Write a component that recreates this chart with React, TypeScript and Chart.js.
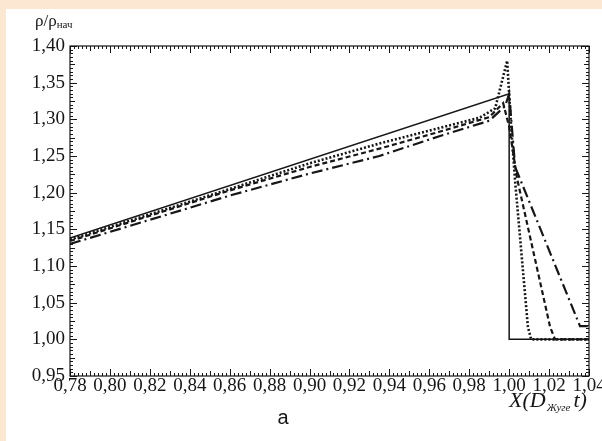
import React, { useEffect, useRef } from 'react';
import { Chart, registerables } from 'chart.js';

Chart.register(...registerables);

// Axis tick values
const xTickValues = [0.78, 0.8, 0.82, 0.84, 0.86, 0.88, 0.9, 0.92, 0.94, 0.96, 0.98, 1.0, 1.02, 1.04];
const yTickValues = [0.95, 1.0, 1.05, 1.1, 1.15, 1.2, 1.25, 1.3, 1.35, 1.4];

// Series 1: solid
const solidX = [0.78, 1.0, 1.0, 1.04];
const solidY = [1.138, 1.335, 1.0, 1.0];

// Series 2: fine dotted (sharp spike)
const dottedX = [0.78, 0.86, 0.9, 0.935, 0.965, 0.985, 0.993, 0.999, 1.001, 1.003, 1.0094, 1.011, 1.04];
const dottedY = [1.136, 1.205, 1.24, 1.267, 1.288, 1.302, 1.315, 1.38, 1.29, 1.215, 1.017, 1.0, 1.0];

// Series 3: short dashed
const dashedX = [0.78, 0.86, 0.9, 0.935, 0.965, 0.99, 0.997, 1.0, 1.004, 1.0205, 1.023, 1.04];
const dashedY = [1.134, 1.203, 1.235, 1.26, 1.283, 1.303, 1.322, 1.29, 1.219, 1.017, 1.0, 1.0];

// Series 4: dash-dot
const dashDotX = [0.78, 0.86, 0.9, 0.935, 0.965, 0.99, 0.998, 1.0, 1.003, 1.0355, 1.04];
const dashDotY = [1.13, 1.196, 1.226, 1.25, 1.277, 1.298, 1.318, 1.335, 1.235, 1.018, 1.018];

const xLabel = { main: 'X(D', sub: 'Жуге', tail: 't)' };
const yLabel = { main: 'ρ/ρ', sub: 'нач' };
const panelLabel = 'а';

const fmt = (v: number) => (Math.round(v * 100) / 100).toFixed(2).replace('.', ',');
const toPts = (xs: number[], ys: number[]) => xs.map((x, i) => ({ x, y: ys[i] }));

const INK = '#161616';

const framePlugin = {
  id: 'frame',
  afterDraw(chart: any) {
    const { ctx, chartArea: a, scales } = chart;
    const xs = scales.x;
    const ys = scales.y;
    ctx.save();
    ctx.strokeStyle = INK;
    ctx.lineWidth = 1.2;
    ctx.strokeRect(a.left, a.top, a.right - a.left, a.bottom - a.top);
    ctx.lineWidth = 1;
    ctx.beginPath();
    // minor x ticks every 0.002, major every 0.02
    for (let i = 0; i <= 130; i++) {
      const v = 0.78 + i * 0.002;
      const px = Math.round(xs.getPixelForValue(v)) + 0.5;
      const len = i % 10 === 0 ? 7 : i % 5 === 0 ? 5 : 3;
      ctx.moveTo(px, a.bottom);
      ctx.lineTo(px, a.bottom - len);
      ctx.moveTo(px, a.top);
      ctx.lineTo(px, a.top + len);
    }
    // minor y ticks every 0.005, major every 0.05
    for (let i = 0; i <= 90; i++) {
      const v = 0.95 + i * 0.005;
      const py = Math.round(ys.getPixelForValue(v)) + 0.5;
      const len = i % 10 === 0 ? 7 : i % 5 === 0 ? 5 : 3;
      ctx.moveTo(a.left, py);
      ctx.lineTo(a.left + len, py);
      ctx.moveTo(a.right, py);
      ctx.lineTo(a.right - len, py);
    }
    ctx.stroke();

    // y title
    ctx.fillStyle = INK;
    ctx.textBaseline = 'alphabetic';
    ctx.textAlign = 'left';
    ctx.font = '17px "Liberation Serif"';
    ctx.fillText(yLabel.main, 29, 17);
    const w1 = ctx.measureText(yLabel.main).width;
    ctx.font = '11px "Liberation Serif"';
    ctx.fillText(yLabel.sub, 29 + w1, 19);

    // x title
    ctx.font = 'italic 22px "Liberation Serif"';
    const xm = 503;
    ctx.fillText(xLabel.main, xm, 398);
    const wm = ctx.measureText(xLabel.main).width;
    ctx.font = 'italic 11px "Liberation Serif"';
    ctx.fillText(xLabel.sub, xm + wm + 1, 402);
    const ws = ctx.measureText(xLabel.sub).width;
    ctx.font = 'italic 22px "Liberation Serif"';
    ctx.fillText(xLabel.tail, xm + wm + ws + 4, 398);

    // panel label
    ctx.font = '20px "Liberation Sans"';
    ctx.textAlign = 'center';
    ctx.fillText(panelLabel, 277, 415);
    ctx.restore();
  },
};

export default function App() {
  const ref = useRef<HTMLCanvasElement>(null);
  useEffect(() => {
    document.body.style.margin = '0';
    const common = { pointRadius: 0, fill: false, tension: 0, borderColor: INK, backgroundColor: INK };
    const chart = new Chart(ref.current!, {
      type: 'line',
      data: {
        datasets: [
          { ...common, label: 'solid', data: toPts(solidX, solidY), borderWidth: 1.5 },
          { ...common, label: 'dotted', data: toPts(dottedX, dottedY), borderWidth: 2.6, borderDash: [2, 2] },
          { ...common, label: 'dashed', data: toPts(dashedX, dashedY), borderWidth: 2.2, borderDash: [5, 3] },
          { ...common, label: 'dashdot', data: toPts(dashDotX, dashDotY), borderWidth: 2.2, borderDash: [11, 4, 2, 4] },
        ],
      },
      options: {
        responsive: false,
        animation: false,
        devicePixelRatio: 1,
        layout: { padding: { left: 0, top: 37, right: 13, bottom: 0 } },
        plugins: { legend: { display: false }, tooltip: { enabled: false } },
        scales: {
          x: {
            type: 'linear',
            min: 0.78,
            max: 1.04,
            afterBuildTicks: (s: any) => {
              s.ticks = xTickValues.map((v) => ({ value: v }));
            },
            afterFit: (s: any) => {
              s.height = 65;
              s.paddingLeft = 0;
              s.paddingRight = 0;
            },
            grid: { display: false, drawTicks: false },
            border: { display: false },
            ticks: {
              autoSkip: false,
              maxRotation: 0,
              padding: -1,
              color: INK,
              font: { family: '"Liberation Serif"', size: 19 },
              callback: (v: any) => fmt(Number(v)),
            },
          },
          y: {
            type: 'linear',
            min: 0.95,
            max: 1.4,
            afterBuildTicks: (s: any) => {
              s.ticks = yTickValues.map((v) => ({ value: v }));
            },
            afterFit: (s: any) => {
              s.width = 64;
              s.paddingTop = 0;
              s.paddingBottom = 0;
            },
            grid: { display: false, drawTicks: false },
            border: { display: false },
            ticks: {
              autoSkip: false,
              padding: 5,
              color: INK,
              font: { family: '"Liberation Serif"', size: 19 },
              callback: (v: any) => fmt(Number(v)),
            },
          },
        },
      },
      plugins: [framePlugin],
    } as any);
    return () => chart.destroy();
  }, []);
  return (
    <div style={{ width: 602, height: 441, background: '#FCE8D2', position: 'relative', overflow: 'hidden' }}>
      <div style={{ position: 'absolute', left: 6, top: 9, width: 596, height: 432, background: '#FFFFFF' }}>
        <canvas ref={ref} width={596} height={432} style={{ display: 'block' }} />
      </div>
    </div>
  );
}
